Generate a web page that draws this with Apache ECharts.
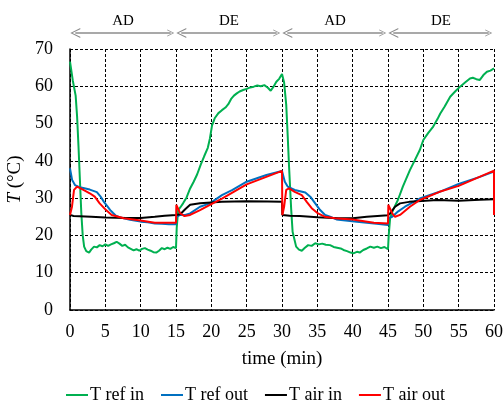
<!DOCTYPE html>
<html>
<head>
<meta charset="utf-8">
<script src="https://cdn.jsdelivr.net/npm/echarts@6/dist/echarts.min.js"></script>
<style>
  html, body { margin: 0; padding: 0; background: #fff; }
  #chart { width: 504px; height: 401px; }
</style>
</head>
<body>
<div id="chart"></div>
<script>
// time axis (min) and temperatures (°C)
var tRefIn = [0, 0.4, 0.8, 1.0, 1.2, 1.4, 1.6, 1.8, 2.0, 2.3, 2.7, 3.0, 3.4, 3.8, 4.2, 4.6, 5.0, 5.4, 5.8, 6.2, 6.6, 7.0, 7.4, 7.8, 8.2, 8.6, 9.0, 9.4, 9.8, 10.2, 10.6, 11.0, 11.4, 11.8, 12.2, 12.6, 13.0, 13.4, 13.8, 14.2, 14.6, 15.0,
  15.1, 15.3, 15.6, 16.0, 16.5, 17.0, 17.5, 18.0, 18.5, 19.0, 19.5, 19.8, 20.1, 20.5, 21.0, 21.5, 22.0, 22.4, 22.8, 23.2, 23.6, 24.0, 24.5, 25.0, 25.5, 26.0, 26.5, 27.0, 27.5, 28.0, 28.4, 28.8, 29.2, 29.6, 30.0,
  30.3, 30.6, 30.8, 31.0, 31.3, 31.5, 32.0, 32.4, 32.8, 33.2, 33.7, 34.2, 34.7, 35.2, 35.7, 36.2, 36.8, 37.3, 37.8, 38.3, 38.7, 39.2, 39.7, 40.1, 40.6, 41.0, 41.5, 42.0, 42.5, 43.0, 43.5, 44.0, 44.5, 45.0,
  45.1, 45.3, 45.7, 46.4, 47.1, 48.1, 48.8, 49.5, 50.0, 50.7, 51.4, 52.0, 52.4, 53.0, 53.8, 54.5, 55.2, 55.9, 56.6, 57.0, 57.5, 58.0, 58.5, 59.0, 59.5, 60.0];
var refIn = [66.6, 61.5, 57.5, 52, 44, 35, 26, 20, 17, 15.8, 15.4, 16.2, 17, 16.8, 17.4, 17.1, 17.6, 17.2, 17.6, 17.9, 18.3, 17.8, 17.2, 17.5, 16.8, 16.4, 16.0, 16.3, 15.9, 16.4, 16.6, 16.2, 15.9, 15.5, 15.4, 15.9, 16.6, 16.3, 16.7, 16.4, 16.9, 16.6,
  22, 26.8, 27.5, 28.6, 30.2, 32.6, 34.4, 36.4, 39, 41.3, 43.5, 46, 49.5, 51.5, 52.8, 53.6, 54.3, 55.2, 56.6, 57.5, 58.1, 58.6, 59.0, 59.3, 59.7, 59.9, 60.2, 60.0, 60.3, 59.6, 58.8, 59.9, 61.2, 62.0, 63.3,
  61, 55, 47, 38.4, 27, 21, 17.0, 16.2, 15.9, 16.6, 17.4, 17.2, 17.9, 17.6, 17.8, 17.5, 17.4, 16.9, 16.7, 16.5, 16.1, 15.8, 15.4, 15.2, 15.6, 15.4, 16.1, 16.5, 17.0, 16.7, 17.0, 16.6, 16.9, 16.3,
  20, 24.6, 26.8, 29.5, 33.1, 37.5, 40.2, 42.9, 45.6, 47.5, 49.2, 51.2, 52.7, 54.5, 57.2, 58.6, 59.9, 61.0, 62.1, 62.3, 61.9, 61.7, 63.0, 63.9, 64.2, 64.8];

var tRefOut = [0, 0.3, 0.7, 1.4, 2.8, 3.8, 4.3, 4.8, 5.3, 5.7, 6.1, 6.5, 7.0, 7.6, 8.5, 10, 11, 12, 13, 14, 15,
  15.05, 15.6, 16.3, 17, 18.4, 19.8, 21.5, 23, 25, 27.8, 30.0,
  30.4, 30.8, 31.8, 33.3, 34.0, 34.7, 35.4, 36.1, 36.8, 37.7, 40.6, 43.4, 45.0,
  45.05, 45.6, 46.4, 47.4, 49.5, 52.3, 55, 58, 60];
var refOut = [38, 34.9, 33.5, 32.9, 32.3, 31.6, 30.5, 29, 27.8, 26.8, 26, 25.3, 24.9, 24.6, 24.2, 23.7, 23.5, 23.2, 23.1, 23.0, 23.0,
  25, 25.5, 25.5, 25.9, 27.7, 28.6, 30.8, 32.2, 34.4, 36.2, 37.3,
  34.4, 33.1, 32.2, 31.5, 30.4, 28.6, 26.8, 25.5, 25, 24.3, 23.7, 23.1, 22.8,
  24.6, 25, 26.4, 27.7, 29.9, 31.7, 33.8, 35.7, 37.1];

var tAirIn = [0, 0.5, 3, 5, 8, 10, 12, 13.4, 15, 15.6, 16.3, 17, 18.4, 21.5, 25, 28, 30,
  30.05, 31.1, 32.5, 35, 38, 40, 42, 45, 45.3, 46, 46.7, 48, 52, 55, 58, 60];
var airIn = [25.5, 25.2, 25, 24.8, 24.7, 24.7, 25.0, 25.3, 25.5, 25.7, 27, 28.2, 28.6, 29, 29.2, 29.1, 29.0,
  25.5, 25.3, 25.2, 24.9, 24.6, 24.6, 25.0, 25.4, 25.9, 27.7, 28.6, 29, 29.5, 29.3, 29.6, 29.7];

var tAirOut = [0, 0.28, 0.57, 1.0, 1.7, 2.8, 3.5, 4.2, 5.1, 5.9, 7.6, 10, 12, 15,
  15.05, 15.3, 15.6, 16.2, 17, 18.4, 19.8, 21.5, 25, 30.0,
  30.05, 30.3, 30.6, 31.0, 31.8, 32.8, 33.5, 34.2, 35.1, 36.1, 37.5, 40, 43, 45,
  45.05, 45.3, 45.6, 46.0, 46.7, 48.1, 49.5, 52.3, 55, 60, 60];
var airOut = [25.5, 27.7, 32.2, 33.1, 32.4, 31.3, 30.4, 28.6, 26.8, 25.5, 24.6, 24.0, 23.4, 23.4,
  28.2, 27.7, 25.9, 25.2, 25.5, 26.8, 28.2, 29.9, 33.7, 37.3,
  25.5, 27.7, 32.2, 32.6, 31.7, 30.8, 29, 27.3, 25.9, 25, 24.6, 24.3, 23.4, 23.2,
  28.2, 27.7, 25.9, 25, 25.5, 27.7, 29.5, 31.7, 33.3, 37.4, 25.5];

// mode phases shown above the plot
var phaseNames = ['AD', 'DE', 'AD', 'DE'];
var phaseStart = [0, 15, 30, 45];
var phaseEnd = [15, 30, 45, 60];

var seriesNames = ['T ref in', 'T ref out', 'T air in', 'T air out'];
var seriesColors = ['#00B050', '#0070C0', '#000000', '#FF0000'];

function zip(t, v) {
  return t.map(function (x, i) { return [x, v[i]]; });
}

var font = 'Liberation Serif, Times New Roman, serif';
var chevron = 'path://M0,10 L5,0 L10,10 L8.8,10 L5,2.2 L1.2,10 Z';

var chart = echarts.init(document.getElementById('chart'));
var dataSets = [zip(tRefIn, refIn), zip(tRefOut, refOut), zip(tAirIn, airIn), zip(tAirOut, airOut)];

var series = dataSets.map(function (d, i) {
  return {
    name: seriesNames[i],
    type: 'line',
    data: d,
    showSymbol: false,
    symbol: 'none',
    lineStyle: { width: 2, color: seriesColors[i] },
    itemStyle: { color: seriesColors[i] },
    z: 3 + i
  };
});

series.push({
  type: 'lines',
  coordinateSystem: 'cartesian2d',
  xAxisIndex: 1,
  yAxisIndex: 1,
  clip: false,
  symbol: [chevron, chevron],
  symbolSize: [10, 7],
  lineStyle: { color: '#8c8c8c', width: 1.5, opacity: 1 },
  label: {
    show: true,
    position: 'middle',
    formatter: '{b}',
    color: '#000',
    fontFamily: font,
    fontSize: 15,
    distance: 4
  },
  data: phaseNames.map(function (n, i) {
    return { name: n, coords: [[phaseStart[i] + 0.75, 0.5], [phaseEnd[i] - 0.75, 0.5]] };
  })
});

chart.setOption({
  animation: false,
  textStyle: { fontFamily: font },
  grid: [
    { left: 70, right: 10, top: 49, bottom: 91, outerBoundsMode: 'none' },
    { left: 70, right: 10, top: 20, height: 26, outerBoundsMode: 'none' }
  ],
  legend: {
    data: seriesNames,
    top: 381,
    left: 61,
    icon: 'rect',
    itemWidth: 22,
    itemHeight: 2,
    itemGap: 17,
    textStyle: { fontFamily: font, fontSize: 18, color: '#000', padding: [0, 0, 0, -3] }
  },
  xAxis: [{
    type: 'value',
    min: 0,
    max: 60,
    interval: 5,
    name: 'time (min)',
    nameLocation: 'middle',
    nameGap: 40,
    nameTextStyle: { fontFamily: font, fontSize: 19, color: '#000' },
    axisLine: { lineStyle: { color: '#000', width: 1.5 } },
    axisTick: { show: false },
    axisLabel: { margin: 13, fontFamily: font, fontSize: 18, color: '#000' },
    splitLine: { show: true, lineStyle: { color: '#000', type: [3, 2], width: 1 } }
  }, {
    gridIndex: 1, type: 'value', min: 0, max: 60, show: false
  }],
  yAxis: [{
    type: 'value',
    min: 0,
    max: 70,
    interval: 10,
    name: '{i|T} (°C)',
    nameLocation: 'middle',
    nameGap: 40,
    nameTextStyle: {
      fontFamily: font, fontSize: 19, color: '#000',
      rich: { i: { fontFamily: font, fontSize: 19, fontStyle: 'italic', color: '#000' } }
    },
    axisLine: { show: true, lineStyle: { color: '#000', width: 1.5 } },
    axisTick: { show: false },
    axisLabel: { margin: 17, fontFamily: font, fontSize: 18, color: '#000' },
    splitLine: { show: true, lineStyle: { color: '#000', type: [3, 2], width: 1 } }
  }, {
    gridIndex: 1, type: 'value', min: 0, max: 1, show: false
  }],
  series: series
});
</script>
</body>
</html>
